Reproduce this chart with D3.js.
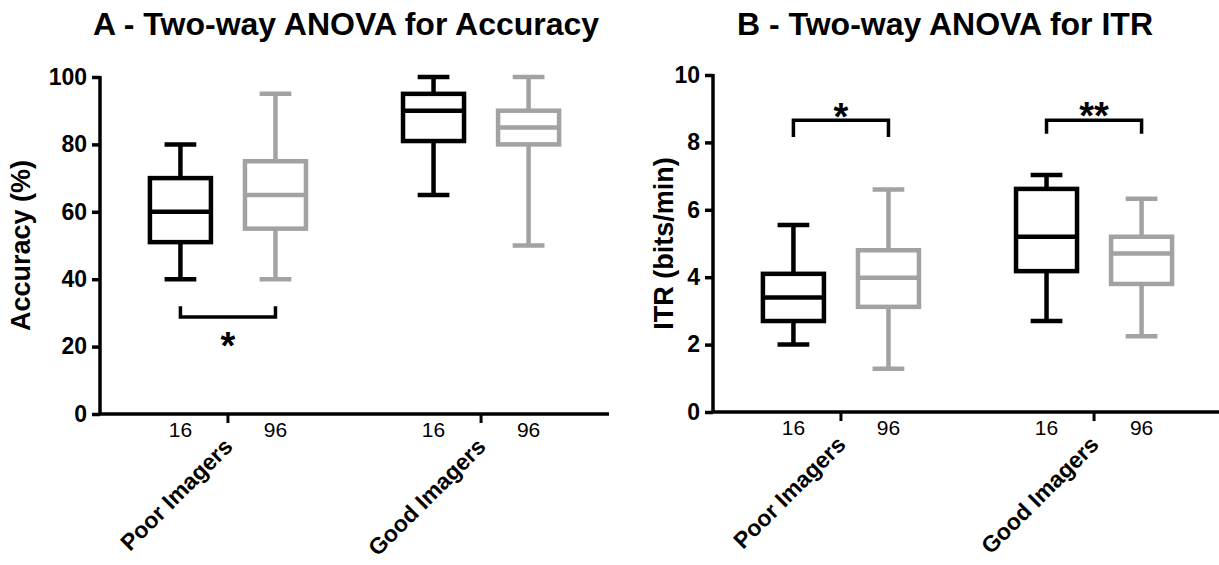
<!DOCTYPE html>
<html lang="en">
<head>
<meta charset="UTF-8">
<title>Two-way ANOVA</title>
<script src="https://cdn.jsdelivr.net/npm/d3@7"></script>
<style>
  body { margin: 0; background: #fff; }
  text { font-family: "Liberation Sans", Arial, sans-serif; }
</style>
</head>
<body>
<script>
// groups and conditions on the x axis
var groups = ["Poor Imagers", "Good Imagers"];
var conditions = ["16", "96"];

// box stats per group: [min, q1, median, q3, max] for 16 then 96
var accPoor = [[40, 51, 60, 70, 80], [40, 55, 65, 75, 95]];
var accGood = [[65, 81, 90, 95, 100], [50, 80, 85, 90, 100]];
var itrPoor = [[2.0, 2.7, 3.4, 4.1, 5.55], [1.28, 3.12, 3.98, 4.8, 6.6]];
var itrGood = [[2.7, 4.18, 5.2, 6.62, 7.03], [2.25, 3.8, 4.7, 5.2, 6.33]];

var accTicks = [0, 20, 40, 60, 80, 100];
var itrTicks = [0, 2, 4, 6, 8, 10];

// significance brackets: group, bar level, tip level, star level, label
var accSig = [{group: "Poor Imagers", y: 28.8, tip: 32, star: 22.8, label: "*"}];
var itrSig = [{group: "Poor Imagers", y: 8.66, tip: 8.16, star: 9.02, label: "*"},
              {group: "Good Imagers", y: 8.66, tip: 8.26, star: 9.05, label: "**"}];

var colors = {"16": "#000000", "96": "#a2a2a2"};

var svg = d3.select("body").append("svg").attr("width", 1219).attr("height", 565);

function panel(cfg) {
    var g = svg.append("g");
    var y = d3.scaleLinear().domain(cfg.domain).range([cfg.bottom, cfg.top]);
    var outer = d3.scaleBand().domain(groups).range([cfg.left, cfg.left + 509])
        .paddingInner(0.249).paddingOuter(0.13);
    var inner = d3.scaleBand().domain(conditions).range([0, outer.bandwidth()])
        .paddingInner(0.358).paddingOuter(0.179);
    var cx = function (grp, c) { return outer(grp) + inner(c) + inner.bandwidth() / 2; };

    // title
    g.append("text").attr("x", cfg.titleX).attr("y", 35).attr("font-size", 32)
        .attr("font-weight", "bold").text(cfg.title);

    // y axis
    var ya = g.append("g").attr("transform", "translate(" + cfg.left + ",0)")
        .call(d3.axisLeft(y).tickValues(cfg.ticks).tickSize(8).tickPadding(5).tickFormat(d3.format("d")));
    ya.select(".domain").attr("stroke-width", 3.5).attr("d", "M0," + (cfg.top - 1) + "V" + cfg.bottom);
    ya.selectAll(".tick line").attr("stroke-width", 3.5);
    ya.selectAll(".tick text").attr("font-size", 23).attr("font-weight", "bold")
        .attr("font-family", "Liberation Sans, Arial, sans-serif").attr("fill", "#000");

    g.append("text").attr("transform", "translate(" + cfg.labelX + "," + ((cfg.top + cfg.bottom) / 2) + ") rotate(-90)")
        .attr("text-anchor", "middle").attr("font-size", 27).attr("font-weight", "bold").text(cfg.yLabel);

    // x axis
    var xa = g.append("g").attr("transform", "translate(0," + cfg.bottom + ")");
    xa.append("line").attr("x1", cfg.left).attr("x2", cfg.left + 509).attr("stroke", "#000").attr("stroke-width", 3.5);
    groups.forEach(function (grp) {
        var gx = outer(grp) + outer.bandwidth() / 2;
        xa.append("line").attr("x1", gx).attr("x2", gx).attr("y1", 0).attr("y2", 9)
            .attr("stroke", "#000").attr("stroke-width", 3);
        conditions.forEach(function (c) {
            xa.append("text").attr("x", cx(grp, c)).attr("y", 23).attr("text-anchor", "middle")
                .attr("font-size", 21).text(c);
        });
        g.append("text").attr("transform", "translate(" + (gx + 6) + "," + (cfg.bottom + 34) + ") rotate(-45)")
            .attr("text-anchor", "end").attr("font-size", 23).attr("font-weight", "bold").text(grp);
    });

    // boxes
    var bw = inner.bandwidth();
    var cap = bw * 0.52;
    cfg.data.forEach(function (stats, gi) {
        var grp = groups[gi];
        stats.forEach(function (s, ci) {
            var c = conditions[ci];
            var x = cx(grp, c);
            var col = colors[c];
            var bg = g.append("g").attr("stroke", col).attr("stroke-width", 4.5).attr("fill", "none");
            bg.append("line").attr("x1", x).attr("x2", x).attr("y1", y(s[0])).attr("y2", y(s[1]));
            bg.append("line").attr("x1", x).attr("x2", x).attr("y1", y(s[3])).attr("y2", y(s[4]));
            bg.append("line").attr("x1", x - cap / 2).attr("x2", x + cap / 2).attr("y1", y(s[0])).attr("y2", y(s[0]));
            bg.append("line").attr("x1", x - cap / 2).attr("x2", x + cap / 2).attr("y1", y(s[4])).attr("y2", y(s[4]));
            bg.append("rect").attr("x", x - bw / 2).attr("y", y(s[3])).attr("width", bw)
                .attr("height", y(s[1]) - y(s[3])).attr("fill", "#fff");
            bg.append("line").attr("x1", x - bw / 2).attr("x2", x + bw / 2).attr("y1", y(s[2])).attr("y2", y(s[2]));
        });
    });

    // significance brackets
    cfg.sig.forEach(function (s) {
        var x1 = cx(s.group, "16"), x2 = cx(s.group, "96");
        g.append("path").attr("fill", "none").attr("stroke", "#000").attr("stroke-width", 3.5)
            .attr("d", "M" + x1 + "," + y(s.tip) + "V" + y(s.y) + "H" + x2 + "V" + y(s.tip));
        g.append("text").attr("x", (x1 + x2) / 2).attr("y", y(s.star) + 0.57 * 38)
            .attr("text-anchor", "middle").attr("font-size", 38).attr("font-weight", "bold").text(s.label);
    });
}

panel({left: 100, top: 77, bottom: 414, domain: [0, 100], ticks: accTicks, data: [accPoor, accGood],
       sig: accSig, title: "A - Two-way ANOVA for Accuracy", titleX: 93, yLabel: "Accuracy (%)", labelX: 30});
panel({left: 713, top: 75, bottom: 412, domain: [0, 10], ticks: itrTicks, data: [itrPoor, itrGood],
       sig: itrSig, title: "B - Two-way ANOVA for ITR", titleX: 737, yLabel: "ITR (bits/min)", labelX: 673});
</script>
</body>
</html>
